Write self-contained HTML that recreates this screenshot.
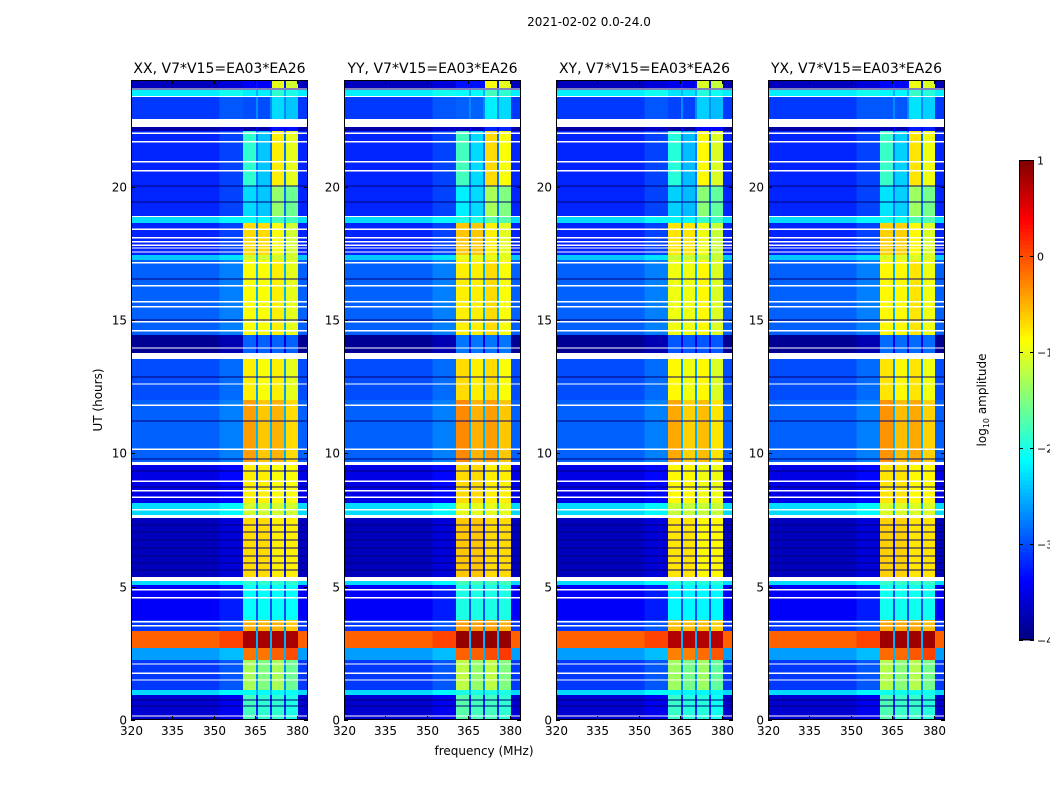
<!DOCTYPE html>
<html><head><meta charset="utf-8">
<style>
body{margin:0;background:#fff;}
svg text{font-family:"DejaVu Sans","Liberation Sans",sans-serif;fill:#000;}
</style></head>
<body>
<svg id="fig" width="1050" height="800" xmlns="http://www.w3.org/2000/svg">
<rect width="1050" height="800" fill="#fff"/>
<text x="589" y="26" font-size="12" text-anchor="middle">2021-02-02 0.0-24.0</text>
<text x="484" y="755" font-size="12" text-anchor="middle">frequency (MHz)</text>
<text transform="translate(102,400) rotate(-90)" font-size="12" text-anchor="middle">UT (hours)</text>
<text transform="translate(986,400) rotate(-90)" font-size="12" text-anchor="middle">log<tspan font-size="8" dy="3">10</tspan><tspan dy="-3"> amplitude</tspan></text>
<g id="panels"></g>
<g id="cbar"></g>
</svg>
<script>
const panelTitles = ["XX, V7*V15=EA03*EA26","YY, V7*V15=EA03*EA26","XY, V7*V15=EA03*EA26","YX, V7*V15=EA03*EA26"];
const panelOffset = [0, 0.1, -0.05, 0.05];
const colStarts = [320, 352, 360.5, 365.2, 365.9, 370.2, 371, 375.3, 376, 380.3];
const colEnds   = [352, 360.5, 365.2, 365.9, 370.2, 371, 375.3, 376, 380.3, 384];
const colKinds  = ["bg","sh","c1","gap","c2","gap","c3","gap","c4","bg"];
// time segments: [t0, t1, bg, c1, c2, c3, c4] (log10 amplitude)
const segments = [
[23.7,24,-3.7,-3.4,-3.4,-1.0,-1.1],
[23.4,23.62,-2.2,-2.2,-2.2,-1.9,-2.0],
[22.54,23.36,-3.1,-3.0,-3.0,-2.3,-2.4],
[22.09,22.24,-3.8,-3.8,-3.8,-3.3,-3.3],
[20.02,22.09,-3.2,-1.9,-2.4,-0.8,-1.0],
[18.9,20.02,-3.2,-2.3,-2.4,-1.4,-1.6],
[18.64,18.86,-2.3,-2.1,-2.1,-1.8,-1.8],
[17.44,18.64,-3.2,-0.7,-0.7,-0.9,-1.1],
[17.25,17.44,-2.4,-1.1,-1.1,-1.1,-1.1],
[14.44,17.25,-2.9,-0.9,-0.9,-0.8,-1.0],
[13.76,14.44,-3.9,-2.9,-2.9,-2.9,-2.9],
[12.0,13.54,-3.0,-0.8,-0.9,-0.8,-1.0],
[9.68,12.0,-2.9,-0.4,-0.6,-0.5,-0.7],
[8.14,9.56,-3.5,-0.8,-0.8,-0.9,-0.9],
[7.69,8.14,-2.3,-1.1,-1.1,-1.1,-1.1],
[5.36,7.58,-3.7,-0.7,-0.7,-0.8,-0.8],
[5.06,5.21,-2.3,-1.9,-1.9,-1.9,-1.9],
[3.75,5.06,-3.4,-2.1,-2.1,-2.1,-2.1],
[3.34,3.75,-3.1,-0.5,-0.5,-0.5,-0.6],
[2.7,3.34,-0.1,0.8,0.8,0.8,0.8],
[2.25,2.7,-2.6,-0.2,-0.2,-0.1,0.0],
[1.125,2.25,-3.1,-1.3,-1.5,-1.3,-1.6],
[0.94,1.125,-2.3,-2.1,-2.1,-2.1,-2.1],
[0,0.94,-3.6,-1.8,-1.9,-1.9,-2.0]
];
const whiteLines = [22.01,21.68,20.93,20.59,18.41,18.08,17.93,17.81,17.7,17.55,17.14,16.28,15.68,15.49,14.93,14.59,13.95,12.6,11.81,10.16,8.96,8.59,8.36,7.88,4.88,4.58,3.68,3.53,2.1,1.76,1.5,0.15];
const blackLines = [23.66,20.02,19.43,16.54,15.0,12.86,11.21,9.79,9.34,8.74,7.31,7.05,6.75,6.45,6.15,5.89,5.63,0.75,0.53];
const xTicks = [320,335,350,365,380];
const yTicks = [0,5,10,15,20];
const cbTicks = [1,0,-1,-2,-3,-4];

const NS="http://www.w3.org/2000/svg";
const panelLefts=[131,344,556,768], PW=177, TOP=80, BOT=720;
const VMIN=-4, VMAX=1;
function X(left,f){return left+(f-320)*PW/64;}
function Y(h){return BOT-h*(BOT-TOP)/24;}
function jet(v){
  let t=Math.max(0,Math.min(1,(v-VMIN)/(VMAX-VMIN)));
  const f=(x)=>Math.max(0,Math.min(1,x));
  const r=f(1.5-Math.abs(4*t-3)), g=f(1.5-Math.abs(4*t-2)), b=f(1.5-Math.abs(4*t-1));
  return `rgb(${Math.round(r*255)},${Math.round(g*255)},${Math.round(b*255)})`;
}
function mk(tag,attrs,parent){const e=document.createElementNS(NS,tag);for(const k in attrs)e.setAttribute(k,attrs[k]);parent.appendChild(e);return e;}
const G=document.getElementById('panels');
panelLefts.forEach((L,p)=>{
  const g=mk('g',{},G);
  
  
  const hm=mk('g',{'shape-rendering':'crispEdges'},g);
  
  
  segments.forEach(s=>{
    const [t0,t1,bg,c1,c2,c3,c4]=s;
    const vals={bg:bg,sh:bg+0.15,c1:c1,c2:c2,c3:c3,c4:c4,gap:Math.min(bg+0.4,-2.5)};
    colStarts.forEach((fs,i)=>{
      let v=vals[colKinds[i]];
      if(colKinds[i][0]==='c')v+=panelOffset[p];
      const r=mk('rect',{x:X(L,fs),y:Y(t1),width:X(L,colEnds[i])-X(L,fs),height:Y(t0)-Y(t1),fill:jet(v)},hm);
      
      
    });
  });
  blackLines.forEach(h=>{
    const r=mk('rect',{x:L,y:Y(h)-0.6,width:PW,height:1.2,fill:'#00007a'},hm);
    
    
  });
  whiteLines.forEach(h=>{
    const r=mk('rect',{x:L,y:Y(h)-0.7,width:PW,height:1.4,fill:'#fff'},hm);
    
    
  });
  const fr=mk('rect',{x:L+0.5,y:TOP+0.5,width:PW-1,height:BOT-TOP-1,fill:'none',stroke:'#000','stroke-width':1},g);
  
  
  const tt=mk('text',{x:L+PW/2,y:73,'font-size':14,'text-anchor':'middle'},g);
  tt.textContent=panelTitles[p];
  
  
  xTicks.forEach(f=>{
    const x=Math.round(X(L,f))+0.5;
    mk('line',{x1:x,x2:x,y1:BOT,y2:BOT-4,stroke:'#000'},g);
    mk('line',{x1:x,x2:x,y1:TOP,y2:TOP+4,stroke:'#000'},g);
    const t=mk('text',{x:x,y:BOT+15,'font-size':12,'text-anchor':'middle'},g);
    t.textContent=f;
    
    
  });
  yTicks.forEach(h=>{
    const y=Math.round(Y(h))+0.5;
    mk('line',{x1:L,x2:L+4,y1:y,y2:y,stroke:'#000'},g);
    mk('line',{x1:L+PW,x2:L+PW-4,y1:y,y2:y,stroke:'#000'},g);
    const t=mk('text',{x:L-4,y:y+4,'font-size':12,'text-anchor':'end'},g);
    t.textContent=h;
    
    
  });
});
const CB=document.getElementById('cbar');


const cbx=1019,cbw=15,cbt=160,cbb=640;
const steps=120;
for(let i=0;i<steps;i++){
  const v=VMIN+(i+0.5)*(VMAX-VMIN)/steps;
  const y0=cbb-(i+1)*(cbb-cbt)/steps;
  const r=mk('rect',{x:cbx,y:y0,width:cbw,height:(cbb-cbt)/steps+0.5,fill:jet(v),'shape-rendering':'crispEdges'},CB);
  
  
}
mk('rect',{x:cbx+0.5,y:cbt+0.5,width:cbw-1,height:cbb-cbt-1,fill:'none',stroke:'#000'},CB);
cbTicks.forEach(v=>{
  const y=Math.round(cbb-(v-VMIN)*(cbb-cbt)/(VMAX-VMIN))+0.5;
  mk('line',{x1:cbx+cbw,x2:cbx+cbw-4,y1:y,y2:y,stroke:'#000'},CB);
  mk('line',{x1:cbx,x2:cbx+4,y1:y,y2:y,stroke:'#000'},CB);
  const t=mk('text',{x:1037,y:y+4,'font-size':11,'text-anchor':'start'},CB);
  t.textContent=v<0?'\u2212'+(-v):String(v);
  
  
});
</script>
</body></html>
